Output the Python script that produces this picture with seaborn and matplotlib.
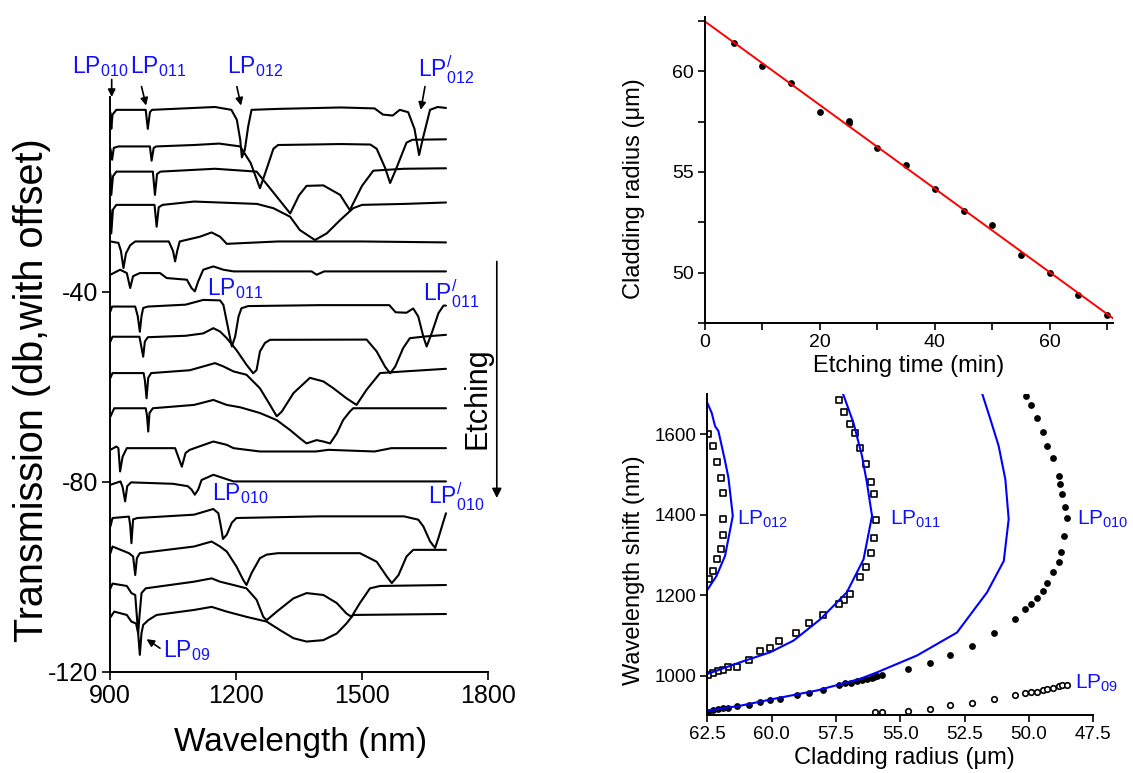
import numpy as np
import pandas as pd
import matplotlib
matplotlib.use('Agg')
import matplotlib.pyplot as plt
import seaborn as sns
from matplotlib.ticker import FixedLocator, MultipleLocator, FormatStrFormatter

# ---- left panel: transmission spectra (baseline in dB, then (wavelength, dB rel. to baseline)) ----
offsets_lp012 = [-1.7, -9.4, -14.7, -21.7, -29.4, -35.7]
traces_lp012 = [
    [(901, -0.5), (903, -4), (906, -1), (915, 0), (985, 0), (990, -4), (995, -0.5), (1000, 0), (1150, 0.6),
     (1189, 0), (1202, -2.1), (1210, -6.3), (1214, -10), (1221, -8.4), (1229, -3.5), (1237, 0), (1300, 0.2),
     (1450, 0.5), (1530, 0.3), (1550, -1), (1573, -1.2), (1590, 0), (1610, -0.5), (1625, -4), (1636, -9.5),
     (1645, -6), (1662, 0), (1680, 0.6), (1700, 0.4)],
    [(901, -0.5), (905, -2.8), (909, -0.3), (920, 0), (995, 0), (999, -3), (1004, -0.3), (1010, 0), (1100, 0.3),
     (1160, 0.6), (1210, 0), (1235, -3.5), (1257, -8.8), (1270, -5.5), (1289, -0.5), (1300, 0.3), (1450, 0.5),
     (1520, 0.4), (1535, -0.5), (1555, -4.5), (1567, -7.7), (1580, -5), (1606, 0.8), (1620, 1.4), (1700, 1.5)],
    [(901, -0.5), (903, -4.9), (907, -1), (915, 0), (1002, 0), (1007, -4.9), (1012, -0.5), (1020, 0), (1150, 0.6),
     (1249, 0), (1290, -4.5), (1329, -8.8), (1350, -5), (1368, -3), (1408, -2.9), (1448, -4.9), (1471, -8.1),
     (1500, -3), (1527, 0.2), (1600, 0.6), (1700, 0.7)],
    [(901, -1), (903, -6), (907, -1), (915, 0), (1006, 0), (1011, -4.6), (1016, -0.5), (1025, 0), (1100, 0.7),
     (1250, 0.2), (1289, -0.7), (1329, -2.5), (1352, -5.3), (1388, -7.4), (1416, -6), (1448, -3.2), (1479, -0.7),
     (1500, 0), (1600, 0.2), (1700, 0.5)],
    [(901, 0), (920, -0.3), (926, -2), (932, -5.6), (938, -2.5), (948, -0.8), (960, 0), (1040, 0), (1050, -2),
     (1055, -4.2), (1060, -2), (1066, 0), (1114, 1), (1142, 1.9), (1162, 1), (1178, -0.5), (1300, 0), (1500, 0),
     (1700, -0.2)],
    [(901, -0.7), (924, 0.35), (940, -0.35), (948, -3.5), (955, -1), (971, -0.35), (1019, -0.35), (1035, -1.4),
     (1083, -1.75), (1094, -3.5), (1102, -4.2), (1110, -2.1), (1122, 0.35), (1146, 1.05), (1170, 0.35),
     (1194, 0), (1380, 0), (1392, -0.7), (1410, 0), (1700, 0)],
]

offsets_lp011 = [-43.1, -49.75, -57.1, -64.5, -72.9]
traces_lp011 = [
    [(901, -1), (905, 0), (960, 0), (966, -2), (971, -5.3), (975, -2), (979, -0.3), (990, 0), (1080, 0.4),
     (1122, 1.4), (1162, 1.3), (1170, 0.35), (1182, -4.9), (1190, -8.4), (1198, -6.3), (1206, -2.1),
     (1213, -0.35), (1229, 0.1), (1400, 0.3), (1565, 0.3), (1580, -1.2), (1606, -1.3), (1622, -0.4),
     (1634, -2.1), (1646, -6.3), (1654, -8.4), (1666, -5.6), (1682, -1.4), (1694, 0.2), (1700, 0.2)],
    [(901, -0.7), (906, 0.3), (970, 0.3), (974, -1.5), (979, -3.9), (983, -0.7), (990, 0.2), (1080, 0.5),
     (1122, 1), (1146, 2.1), (1162, 1.4), (1178, 0), (1201, -2.5), (1225, -5.6), (1241, -7.4), (1249, -6.7),
     (1257, -2.8), (1269, -1), (1281, -0.35), (1511, -0.3), (1535, -2.8), (1555, -6), (1567, -7.4),
     (1579, -6), (1598, -2.1), (1614, 0), (1650, 0.35), (1700, 0.7)],
    [(901, -1), (906, 0), (980, 0), (983, -1.5), (987, -5.3), (991, -1), (998, 0), (1090, 0.6), (1150, 2.1),
     (1170, 1.4), (1194, 0.35), (1225, -0.35), (1257, -3.2), (1281, -6.7), (1297, -9.1), (1309, -8.1),
     (1337, -4.2), (1376, -1), (1408, -1.75), (1432, -3.2), (1463, -5.3), (1487, -6.7), (1511, -3.5),
     (1543, 0), (1600, 0.35), (1700, 0.9)],
    [(901, -1.75), (910, 0), (985, 0), (988, -1.5), (991, -4.9), (994, -1), (1002, 0), (1100, 0.7),
     (1146, 1.75), (1178, 0.7), (1210, 0.2), (1257, -1), (1297, -2.5), (1329, -4.6), (1352, -6.3),
     (1368, -7.4), (1392, -6.7), (1408, -7), (1424, -7.4), (1440, -5.3), (1455, -2.5), (1471, -0.7),
     (1479, 0), (1700, 0)],
    [(901, -0.35), (915, 0.35), (920, 0), (924, -4.9), (930, -1.8), (940, 0), (1055, 0), (1071, -3.9),
     (1080, -1), (1090, -0.35), (1146, 1.4), (1178, 0.7), (1194, 0), (1257, -0.7), (1390, -0.7),
     (1420, -0.35), (1530, -0.7), (1570, 0), (1700, 0)],
]

offsets_lp010 = [-80.1, -87.6, -94.3, -101.9, -107.8]
traces_lp010 = [
    [(901, -0.5), (925, 0.2), (930, -1), (936, -4), (941, -0.8), (950, 0), (1050, -0.3), (1085, -0.8),
     (1094, -1.5), (1102, -2.6), (1110, -1.5), (1118, 0.5), (1146, 1.6), (1170, 0.9), (1194, 0.2), (1700, 0.2)],
    [(901, -1.75), (906, 0), (945, 0.3), (948, -1.5), (951, -5.3), (955, -0.3), (965, 0), (1100, 0.7),
     (1146, 1.9), (1158, 1), (1164, -1.75), (1169, -4.4), (1178, -3.5), (1190, -1), (1201, 0), (1400, 0.35),
     (1600, 0.35), (1634, -0.35), (1646, -1.75), (1662, -4.9), (1674, -6.3), (1682, -4.2), (1694, -0.7),
     (1700, 1)],
    [(901, -0.7), (906, 0.7), (945, -0.7), (955, -1.4), (960, -5.3), (964, -1.75), (971, -0.7), (1100, 0.7),
     (1142, 1.75), (1162, 0.7), (1178, -0.35), (1201, -3.5), (1217, -6.3), (1225, -7.4), (1237, -4.9),
     (1257, -1.75), (1273, -1), (1300, -0.7), (1495, -0.7), (1535, -2.5), (1559, -5.6), (1571, -7),
     (1587, -5.3), (1606, -1.4), (1622, 0), (1700, 0)],
    [(901, -0.5), (906, 0.5), (940, 0), (951, -1.5), (960, -1.9), (964, -6.5), (967, -10), (970, -6.5),
     (975, -1.5), (985, -0.5), (1100, 0.9), (1142, 1.6), (1162, 0.9), (1194, 0.2), (1225, -0.5), (1249, -2.9),
     (1265, -6.5), (1273, -7.2), (1297, -5.4), (1337, -2.6), (1368, -1.5), (1408, -1.9), (1440, -3.6),
     (1463, -5.8), (1475, -6.5), (1495, -3.6), (1519, -0.5), (1543, 0), (1700, 0.2)],
    [(901, -0.7), (910, 0.5), (940, -0.2), (951, -1.6), (962, -2), (967, -4), (971, -8.6), (975, -4),
     (979, -2.3), (991, -1.3), (1011, -0.2), (1100, 0.85), (1142, 1.5), (1178, 0.5), (1225, -0.6),
     (1273, -1.6), (1305, -3.4), (1337, -5.1), (1368, -5.8), (1408, -5.5), (1440, -4.1), (1463, -2),
     (1479, -0.2), (1700, 0)],
]

# ---- top right: cladding radius vs etching time ----
etch_time = [5, 10, 15, 20, 25, 25, 30, 35, 40, 45, 50, 55, 60, 65, 70]
clad_radius = [61.4, 60.28, 59.39, 57.99, 57.45, 57.55, 56.21, 55.34, 54.16, 53.07, 52.38, 50.9, 50.0, 48.92, 47.93]

# ---- bottom right: resonance wavelength vs cladding radius ----
lp012_fit_r = [62.5, 62.14, 61.81, 61.51, 61.68, 61.81, 62.07, 62.2, 62.33, 62.5]
lp012_fit_wl = [1213, 1248, 1298, 1397, 1492, 1533, 1608, 1620, 1653, 1678]
lp012_r = [62.46, 62.29, 62.14, 61.98, 61.9, 61.9, 61.9, 61.98, 62.14, 62.29, 62.42]
lp012_wl = [1601, 1570, 1532, 1492, 1453, 1389, 1349, 1314, 1289, 1259, 1240]

lp011_fit_r = [62.5, 61.23, 60.06, 59.15, 58.11, 57.08, 56.43, 56.1, 56.3, 56.49, 56.82, 57.23]
lp011_fit_wl = [1004, 1033, 1058, 1087, 1140, 1207, 1289, 1397, 1480, 1546, 1628, 1701]
lp011_r = [57.4, 57.17, 56.95, 56.76, 56.56, 56.34, 56.15, 56.01, 55.94, 56.01, 56.15, 56.34, 56.56,
           56.95, 57.17, 57.4, 58.01, 58.53, 59.05, 59.7, 60.06, 60.45, 60.9, 61.33, 61.68, 61.9, 62.07,
           62.27, 62.46]
lp011_wl = [1686, 1656, 1626, 1602, 1566, 1527, 1482, 1452, 1388, 1341, 1304, 1269, 1244, 1204, 1189,
            1179, 1150, 1130, 1107, 1085, 1069, 1060, 1040, 1021, 1021, 1015, 1011, 1007, 1002]

lp010_fit_r = [62.5, 61.23, 59.93, 58.24, 56.56, 55.91, 54.35, 52.8, 51.63, 50.98, 50.79, 50.92, 51.18,
               51.5, 51.82]
lp010_fit_wl = [913, 925, 942, 963, 992, 1008, 1050, 1107, 1207, 1285, 1389, 1488, 1571, 1637, 1701]
lp010_r = [62.46, 62.27, 62.07, 61.88, 61.68, 61.36, 60.9, 60.45, 60.06, 59.67, 59.02, 58.53, 58.01, 57.4,
           57.14, 56.92, 56.69, 56.49, 56.3, 56.1, 56.01, 55.91, 55.72, 54.72, 53.83, 53.06, 52.22, 51.37,
           50.53, 50.14, 49.94, 49.69, 49.45, 49.3, 49.06, 48.84, 48.75, 48.65, 48.54, 48.62, 48.71, 48.78,
           48.84, 49.06, 49.3, 49.45, 49.69, 49.92, 50.1]
lp010_wl = [910, 915, 917, 919, 920, 925, 927, 935, 940, 942, 952, 957, 965, 977, 982, 982, 986, 989, 992,
            994, 997, 1000, 1001, 1016, 1031, 1050, 1074, 1105, 1140, 1165, 1178, 1194, 1210, 1229, 1258,
            1283, 1308, 1347, 1393, 1419, 1452, 1477, 1496, 1542, 1571, 1605, 1641, 1672, 1696]

lp09_r = [55.98, 55.72, 54.72, 53.83, 53.06, 52.22, 51.37, 50.53, 50.14, 49.94, 49.69, 49.45, 49.3, 49.06,
          48.84, 48.71, 48.54]
lp09_wl = [910, 909, 912, 917, 927, 932, 942, 952, 956, 958, 960, 964, 967, 970, 973, 977, 977]

sns.set_theme(style="ticks")
plt.rcParams['font.family'] = ['Liberation Sans', 'DejaVu Sans']
plt.rcParams['mathtext.default'] = 'regular'
plt.rcParams['axes.unicode_minus'] = False
plt.rcParams['axes.linewidth'] = 1.4
plt.rcParams['axes.edgecolor'] = 'black'
plt.rcParams['axes.labelcolor'] = 'black'
plt.rcParams['text.color'] = 'black'
for ax_name in ['xtick', 'ytick']:
    plt.rcParams[ax_name + '.direction'] = 'out'
    plt.rcParams[ax_name + '.color'] = 'black'
    plt.rcParams[ax_name + '.labelcolor'] = 'black'
    plt.rcParams[ax_name + '.major.width'] = 1.2
    plt.rcParams[ax_name + '.minor.width'] = 1.2

fig = plt.figure(figsize=(11.33, 7.73), dpi=100)

# ---------------- left panel ----------------
ax1 = fig.add_axes([0.0971, 0.1307, 0.3336, 0.7438])
rows = []
tid = 0
for offs, trs in [(offsets_lp012, traces_lp012), (offsets_lp011, traces_lp011), (offsets_lp010, traces_lp010)]:
    for off, pts in zip(offs, trs):
        for wl, rel in pts:
            rows.append((tid, wl, off + rel))
        tid += 1
spec = pd.DataFrame(rows, columns=['trace', 'wavelength', 'transmission'])
sns.lineplot(data=spec, x='wavelength', y='transmission', units='trace', estimator=None, sort=False,
             color='black', lw=1.5, ax=ax1)
ax1.set_xlim(900, 1800)
ax1.set_ylim(-120, 1)
ax1.xaxis.set_major_locator(FixedLocator([900, 1200, 1500, 1800]))
ax1.yaxis.set_major_locator(FixedLocator([-40, -80, -120]))
ax1.tick_params(labelsize=18, length=5.5, pad=3)
sns.despine(ax=ax1)
ax1.set_xlabel('Wavelength (nm)', fontsize=24)
ax1.set_ylabel('Transmission (db,with offset)', fontsize=28.5)
ax1.xaxis.set_label_coords(0.503, -0.095)
ax1.yaxis.set_label_coords(-0.155, 0.49)

blue = '#1010ff'
lab_kw = dict(color=blue, fontsize=16.5, va='baseline', ha='left', clip_on=False)
ax1.text(809, 6.0, r'L$P_{010}$', **lab_kw)
ax1.text(948, 6.0, r'L$P_{011}$', **lab_kw)
ax1.text(1178, 6.0, r'L$P_{012}$', **lab_kw)
ax1.text(1634, 5.2, r'L$P^{/}_{012}$', **lab_kw)
ax1.text(1130, -40.6, r'L$P_{011}$', **lab_kw)
ax1.text(1646, -42.0, r'L$P^{/}_{011}$', **lab_kw)
ax1.text(1142, -83.9, r'L$P_{010}$', **lab_kw)
ax1.text(1658, -84.8, r'L$P^{/}_{010}$', **lab_kw)
ax1.text(1025, -116.9, r'L$P_{09}$', **lab_kw)

arr = dict(arrowstyle='-|>', color='black', lw=1.2, mutation_scale=11, shrinkA=0, shrinkB=0)
for start, end in [((904, 4.7), (904, 1.0)), ((975, 3.2), (986, -0.8)), ((1202, 3.2), (1212, -0.8)),
                   ((1650, 3.2), (1640, -1.7)), ((1019, -115.0), (987, -113.1))]:
    ax1.annotate('', xy=end, xytext=start, arrowprops=arr, annotation_clip=False)

ax1.annotate('', xy=(1821, -83.4), xytext=(1821, -33.6), annotation_clip=False,
             arrowprops=dict(arrowstyle='-|>', color='black', lw=1.2, mutation_scale=14, shrinkA=0, shrinkB=0))
ax1.text(1776, -62.3, 'Etching', rotation=90, ha='center', va='center', fontsize=22, clip_on=False)

# ---------------- top right ----------------
ax2 = fig.add_axes([0.6222, 0.5818, 0.3601, 0.3966])
ax2.set_xlim(0, 71)
ax2.set_ylim(47.5, 62.7)
sns.regplot(x=np.array(etch_time), y=np.array(clad_radius), ci=None, truncate=False, ax=ax2,
            scatter_kws=dict(s=24, color='black', alpha=1, linewidths=0),
            line_kws=dict(color='red', lw=1.4))
ax2.set_xlim(0, 71)
ax2.xaxis.set_major_locator(MultipleLocator(20))
ax2.xaxis.set_minor_locator(MultipleLocator(10))
ax2.yaxis.set_major_locator(FixedLocator([50, 55, 60]))
ax2.yaxis.set_minor_locator(FixedLocator([47.5, 52.5, 57.5, 62.5]))
ax2.tick_params(which='both', labelsize=14, length=5, pad=3)
sns.despine(ax=ax2)
ax2.set_xlabel('Etching time (min)', fontsize=17)
ax2.set_ylabel('Cladding radius (\u03bcm)', fontsize=17)
ax2.xaxis.set_label_coords(0.499, -0.105)
ax2.yaxis.set_label_coords(-0.147, 0.44)

# ---------------- bottom right ----------------
ax3 = fig.add_axes([0.6243, 0.075, 0.3407, 0.4153])
for fr, fw in [(lp012_fit_r, lp012_fit_wl), (lp011_fit_r, lp011_fit_wl), (lp010_fit_r, lp010_fit_wl)]:
    sns.lineplot(x=fr, y=fw, sort=False, estimator=None, color='blue', lw=1.5, ax=ax3)
for rr, ww in [(lp012_r, lp012_wl), (lp011_r, lp011_wl)]:
    sns.scatterplot(x=rr, y=ww, marker='s', s=14, facecolor='white', edgecolor='black', linewidth=1.2, ax=ax3)
sns.scatterplot(x=lp010_r, y=lp010_wl, marker='o', s=24, color='black', linewidth=0, ax=ax3)
sns.scatterplot(x=lp09_r, y=lp09_wl, marker='o', s=16, facecolor='white', edgecolor='black', linewidth=1.2, ax=ax3)
ax3.set_xlim(62.5, 47.5)
ax3.set_ylim(902, 1700)
ax3.xaxis.set_major_locator(MultipleLocator(2.5))
ax3.xaxis.set_major_formatter(FormatStrFormatter('%.1f'))
ax3.yaxis.set_major_locator(FixedLocator([1000, 1200, 1400, 1600]))
ax3.tick_params(labelsize=13.5, length=5, pad=3)
sns.despine(ax=ax3)
ax3.set_xlabel('Cladding radius (\u03bcm)', fontsize=17)
ax3.set_ylabel('Wavelength shift (nm)', fontsize=17)
ax3.xaxis.set_label_coords(0.51, -0.1)
ax3.yaxis.set_label_coords(-0.161, 0.452)

lab3 = dict(color=blue, fontsize=15, va='baseline', ha='left', clip_on=False)
ax3.text(61.36, 1376, r'L$P_{012}$', **lab3)
ax3.text(55.42, 1376, r'L$P_{011}$', **lab3)
ax3.text(48.15, 1376, r'L$P_{010}$', **lab3)
ax3.text(48.23, 967, r'L$P_{09}$', **lab3)

fig.savefig('out.png', dpi=100)
